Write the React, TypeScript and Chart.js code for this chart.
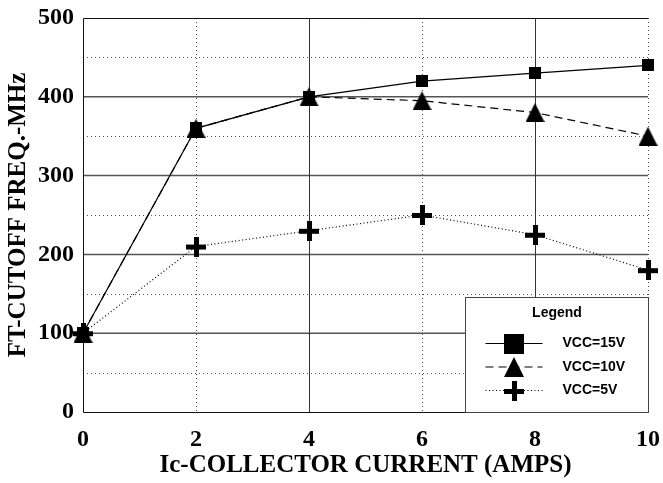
import React, { useEffect, useRef } from 'react';
import { Chart, registerables } from 'chart.js';
Chart.register(...registerables);

const currents = [0, 2, 4, 6, 8, 10];
const vcc15 = [100, 360, 400, 420, 430, 440];
const vcc10 = [100, 360, 400, 395, 380, 350];
const vcc5 = [100, 210, 230, 250, 225, 180];
const seriesNames = ['VCC=15V', 'VCC=10V', 'VCC=5V'];
const yMajor = [100, 200, 300, 400];
const yMinor = [50, 150, 250, 350, 450];
const xSolid = [4, 8];
const xDotted = [2, 6, 10];
const xTitle = 'Ic-COLLECTOR CURRENT (AMPS)';
const yTitle = 'FT-CUTOFF FREQ.-MHz';
const legendTitle = 'Legend';

function makeMarker(kind: string, size: number): HTMLCanvasElement {
  const c = document.createElement('canvas');
  c.width = size;
  c.height = size;
  const g = c.getContext('2d')!;
  g.fillStyle = '#000';
  if (kind === 'square') {
    g.fillRect(0, 0, size, size);
  } else if (kind === 'triangle') {
    g.beginPath();
    g.moveTo(size / 2, 0);
    g.lineTo(size, size);
    g.lineTo(0, size);
    g.closePath();
    g.fill();
  } else {
    const t = Math.max(3, Math.round(size * 0.25));
    const o = Math.round((size - t) / 2);
    g.fillRect(o, 0, t, size);
    g.fillRect(0, o, size, t);
  }
  return c;
}

export default function App() {
  const ref = useRef<HTMLCanvasElement | null>(null);
  useEffect(() => {
    if (!ref.current) return;
    const markers = [makeMarker('square', 12), makeMarker('triangle', 19), makeMarker('cross', 20)];
    const legendMarkers = [makeMarker('square', 20), makeMarker('triangle', 20), makeMarker('cross', 20)];
    const dashes: number[][] = [[], [8, 5], [1, 2.5]];
    const seriesValues = [vcc15, vcc10, vcc5];

    const gridPlugin = {
      id: 'refGrid',
      beforeDatasetsDraw(chart: any) {
        const { ctx, chartArea, scales } = chart;
        const { left, right, top, bottom } = chartArea;
        const x = scales.x;
        const y = scales.y;
        ctx.save();
        ctx.strokeStyle = '#555';
        ctx.lineWidth = 1;
        ctx.setLineDash([1, 3]);
        yMinor.forEach((v) => {
          const py = Math.round(y.getPixelForValue(v)) + 0.5;
          ctx.beginPath();
          ctx.moveTo(left, py);
          ctx.lineTo(right, py);
          ctx.stroke();
        });
        xDotted.forEach((v) => {
          const px = Math.round(x.getPixelForValue(v)) + 0.5;
          ctx.beginPath();
          ctx.moveTo(px, top);
          ctx.lineTo(px, bottom);
          ctx.stroke();
        });
        ctx.setLineDash([]);
        ctx.strokeStyle = '#555';
        ctx.lineWidth = 1.5;
        yMajor.forEach((v) => {
          const py = y.getPixelForValue(v);
          ctx.beginPath();
          ctx.moveTo(left, py);
          ctx.lineTo(right, py);
          ctx.stroke();
        });
        ctx.strokeStyle = '#333';
        ctx.lineWidth = 1;
        xSolid.forEach((v) => {
          const px = Math.round(x.getPixelForValue(v)) + 0.5;
          ctx.beginPath();
          ctx.moveTo(px, top);
          ctx.lineTo(px, bottom);
          ctx.stroke();
        });
        ctx.strokeStyle = '#111';
        ctx.lineWidth = 1;
        ctx.beginPath();
        ctx.moveTo(right, Math.round(top) + 0.5);
        ctx.lineTo(Math.round(left) + 0.5, Math.round(top) + 0.5);
        ctx.lineTo(Math.round(left) + 0.5, Math.round(bottom) + 0.5);
        ctx.lineTo(right, Math.round(bottom) + 0.5);
        ctx.stroke();
        ctx.restore();
      },
    };

    const legendPlugin = {
      id: 'refLegend',
      afterDatasetsDraw(chart: any) {
        const { ctx, chartArea } = chart;
        const bw = 183;
        const bh = 115;
        const bx = Math.round(chartArea.right - bw) + 0.5;
        const by = Math.round(chartArea.bottom - bh) + 0.5;
        ctx.save();
        ctx.fillStyle = '#fff';
        ctx.fillRect(bx, by, bw, bh);
        ctx.strokeStyle = '#444';
        ctx.lineWidth = 1;
        ctx.strokeRect(bx, by, bw, bh);
        ctx.fillStyle = '#000';
        ctx.font = 'bold 14px "Liberation Sans", Arial, sans-serif';
        ctx.textAlign = 'center';
        ctx.textBaseline = 'middle';
        ctx.fillText(legendTitle, bx + bw / 2, by + 16);
        seriesNames.forEach((name, i) => {
          const ry = by + 46 + i * 23.5;
          ctx.strokeStyle = '#000';
          ctx.lineWidth = 1.2;
          ctx.setLineDash(dashes[i]);
          ctx.beginPath();
          ctx.moveTo(bx + 20, ry);
          ctx.lineTo(bx + 77, ry);
          ctx.stroke();
          ctx.setLineDash([]);
          const m = legendMarkers[i];
          ctx.drawImage(m, Math.round(bx + 48 - m.width / 2), Math.round(ry - m.height / 2));
          ctx.textAlign = 'left';
          ctx.fillText(name, bx + 97, ry);
        });
        ctx.restore();
      },
    };

    const serif = '"Liberation Serif", "Times New Roman", serif';
    const chart = new Chart(ref.current, {
      type: 'line',
      data: {
        datasets: seriesNames.map((name, i) => ({
          label: name,
          data: currents.map((c, j) => ({ x: c, y: seriesValues[i][j] })),
          borderColor: '#000',
          backgroundColor: '#000',
          borderWidth: 1.2,
          borderDash: dashes[i],
          pointStyle: markers[i],
          pointRadius: 8,
          clip: false,
          fill: false,
          tension: 0,
          order: 3 - i,
        })).reverse(),
      },
      options: {
        animation: false,
        responsive: false,
        events: [],
        layout: { padding: { top: 18, right: 15, left: 0, bottom: 0 } },
        plugins: { legend: { display: false }, tooltip: { enabled: false } },
        scales: {
          x: {
            type: 'linear',
            min: 0,
            max: 10,
            afterBuildTicks: (s: any) => {
              s.ticks = currents.map((v) => ({ value: v }));
            },
            afterFit: (s: any) => {
              s.height = 71;
              s.paddingLeft = 0;
              s.paddingRight = 0;
            },
            grid: { display: false, drawTicks: false },
            border: { display: false },
            ticks: {
              color: '#000',
              padding: 13,
              maxRotation: 0,
              autoSkip: false,
              font: { family: serif, size: 24, weight: 'bold' },
            },
            title: {
              display: true,
              text: xTitle,
              color: '#000',
              padding: { top: 2, bottom: 2 },
              font: { family: serif, size: 25, weight: 'bold' },
            },
          },
          y: {
            type: 'linear',
            min: 0,
            max: 500,
            ticks: {
              stepSize: 100,
              color: '#000',
              padding: 9,
              font: { family: serif, size: 24, weight: 'bold' },
            },
            afterFit: (s: any) => {
              s.width = 83;
              s.paddingTop = 0;
              s.paddingBottom = 0;
            },
            grid: { display: false, drawTicks: false },
            border: { display: false },
            title: {
              display: true,
              text: yTitle,
              color: '#000',
              padding: { top: 4, bottom: 4 },
              font: { family: serif, size: 25, weight: 'bold' },
            },
          },
        },
      },
      plugins: [gridPlugin, legendPlugin],
    } as any);
    return () => chart.destroy();
  }, []);

  return (
    <div style={{ position: 'fixed', left: 0, top: 0, width: 663, height: 483, background: '#fff' }}>
      <canvas ref={ref} width={663} height={483} style={{ display: 'block' }} />
    </div>
  );
}
